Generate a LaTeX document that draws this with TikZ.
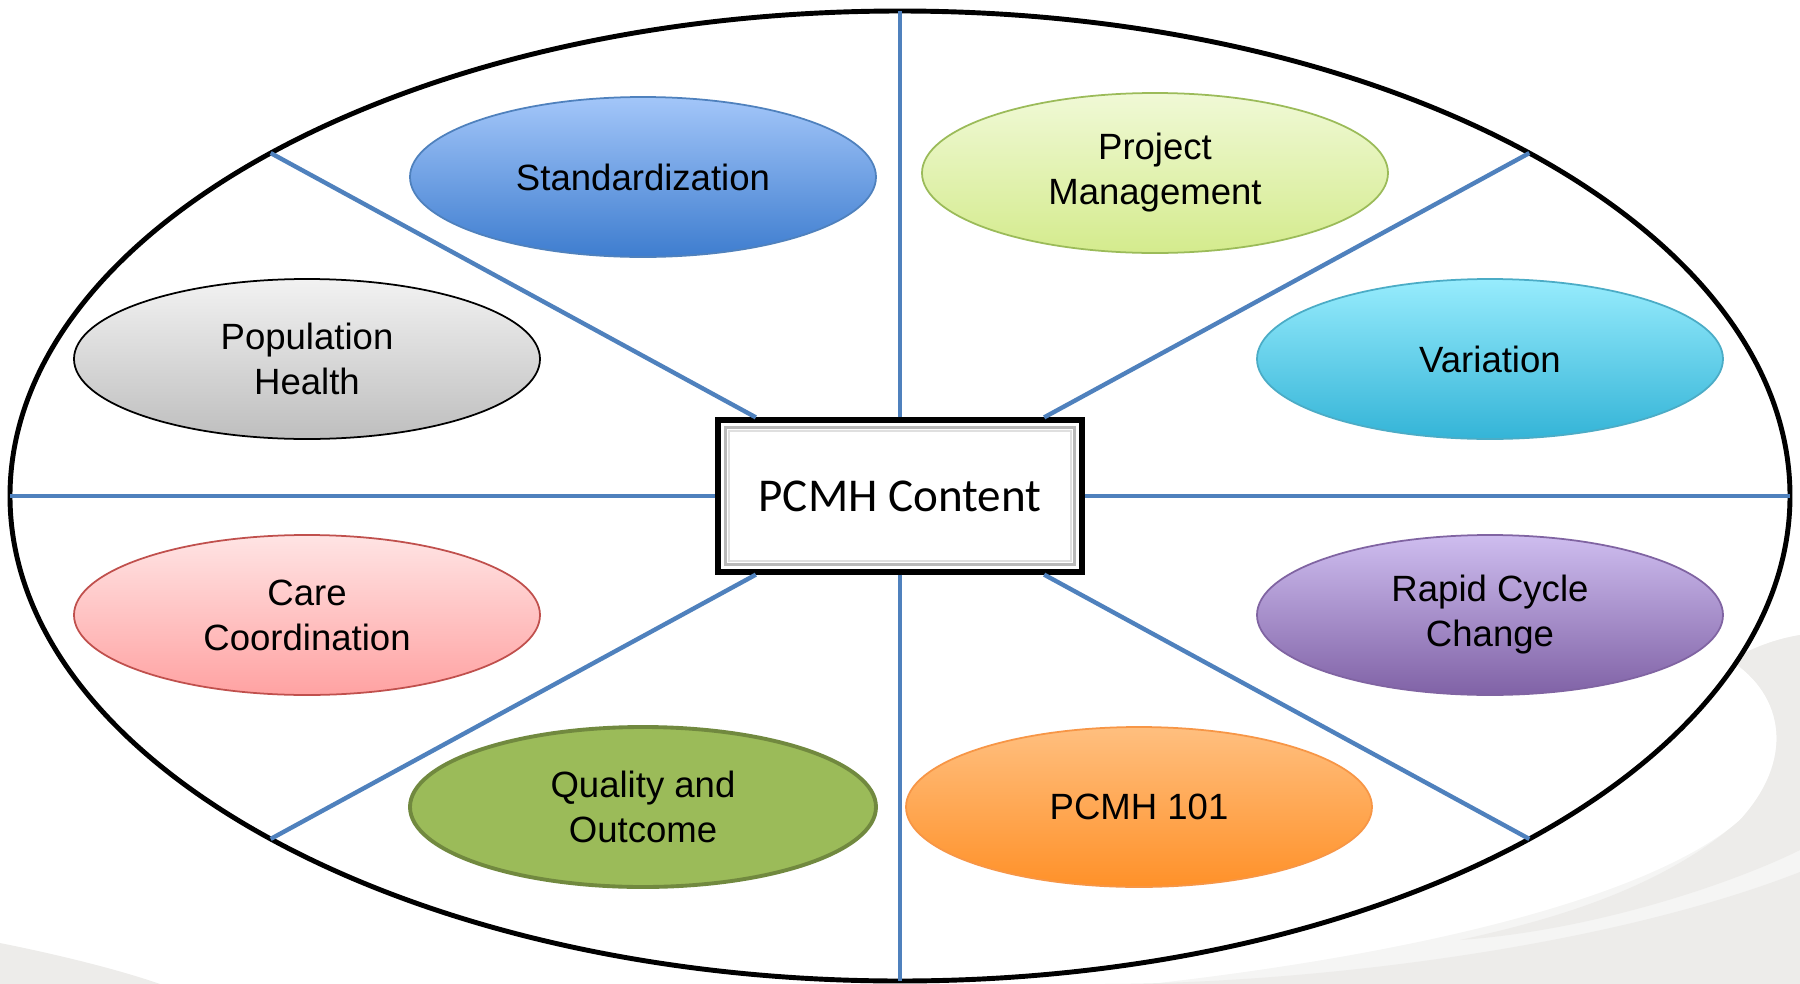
\documentclass[tikz,border=0pt]{standalone}
\usepackage{fontspec}
\setmainfont{Liberation Sans}
\newfontfamily\calibri{Carlito}
\usetikzlibrary{shapes.geometric}

\definecolor{spokeblue}{HTML}{4F81BD}
\definecolor{swoosh}{HTML}{EDECEA}
\definecolor{swooshlight}{HTML}{F5F5F4}

\begin{document}
\begin{tikzpicture}[
    topic/.style={ellipse, minimum width=4.66cm, minimum height=1.6cm, inner sep=0pt,
      align=center, line width=0.5pt, font=\fontsize{10.4}{12.8}\selectfont},
    spoke/.style={spokeblue, line width=1.25pt}]
  \useasboundingbox (0,0) rectangle (18,-9.84);

  % faint plate rim behind the wheel
  \fill[swooshlight] (17.3,-6.6) .. controls (17.85,-6.95) and (17.95,-7.6) .. (17.4,-8.2)
    .. controls (16.6,-8.9) and (14.5,-9.5) .. (11.5,-9.84) -- (18,-9.84) -- (18,-6.35)
    .. controls (17.7,-6.4) and (17.5,-6.5) .. cycle;
  \fill[swoosh] (17.3,-6.6) .. controls (17.85,-6.95) and (17.95,-7.6) .. (17.4,-8.2)
    .. controls (16.6,-8.9) and (15.5,-9.2) .. (14.6,-9.4)
    .. controls (16,-9.3) and (17.4,-8.8) .. (18,-8.5) -- (18,-6.35)
    .. controls (17.7,-6.4) and (17.5,-6.5) .. cycle;
  \fill[swoosh] (18,-8.72) .. controls (16,-9.5) and (13,-9.84) .. (11,-9.84) -- (18,-9.84) -- cycle;
  \fill[swoosh] (0,-9.43) .. controls (0.6,-9.55) and (1.2,-9.7) .. (1.6,-9.84) -- (0,-9.84) -- cycle;

  \coordinate (c) at (9,-4.96);
  \filldraw[fill=white, line width=1.4pt] (c) ellipse [x radius=8.9cm, y radius=4.85cm];

  \node[draw, line width=1.5pt, fill=white, minimum width=3.64cm, minimum height=1.52cm,
    font=\calibri\fontsize{13.4}{16}\selectfont] (pcmh) at (c) {PCMH Content};
  \draw[gray!55, line width=0.9pt] ([shift={(0.1,-0.1)}]pcmh.north west) rectangle ([shift={(-0.1,0.1)}]pcmh.south east);
  \draw[gray!25, line width=0.6pt] ([shift={(0.14,-0.14)}]pcmh.north west) rectangle ([shift={(-0.14,0.14)}]pcmh.south east);

  \foreach \a in {0,45,...,315} {
    \path (c) ++(\a:8.9 and 4.85) coordinate (rim\a);
    \draw[spoke] (pcmh) -- (rim\a);
  }

  \node[topic, top color={rgb,255:red,163;green,198;blue,249}, bottom color={rgb,255:red,62;green,125;blue,207},
    draw=spokeblue] (std) at (6.43,-1.77) {Standardization};
  \node[topic, top color={rgb,255:red,240;green,249;blue,214}, bottom color={rgb,255:red,212;green,235;blue,141},
    draw={rgb,255:red,155;green,187;blue,89}] (proj) at (11.55,-1.73) {Project\\Management};
  \node[topic, top color={rgb,255:red,242;green,242;blue,242}, bottom color={rgb,255:red,190;green,190;blue,190},
    draw=black] (pop) at (3.07,-3.59) {Population\\Health};
  \node[topic, top color={rgb,255:red,151;green,236;blue,253}, bottom color={rgb,255:red,52;green,180;blue,215},
    draw={rgb,255:red,75;green,172;blue,198}] (var) at (14.90,-3.59) {Variation};
  \node[topic, top color={rgb,255:red,255;green,228;blue,228}, bottom color={rgb,255:red,255;green,162;blue,162},
    draw={rgb,255:red,192;green,80;blue,77}] (care) at (3.07,-6.15) {Care\\Coordination};
  \node[topic, top color={rgb,255:red,206;green,189;blue,239}, bottom color={rgb,255:red,128;green,98;blue,166},
    draw={rgb,255:red,128;green,100;blue,162}] (rapid) at (14.90,-6.15) {Rapid Cycle\\Change};
  \node[topic, fill={rgb,255:red,155;green,187;blue,89}, draw={rgb,255:red,113;green,137;blue,63},
    line width=1.1pt] (qual) at (6.43,-8.07) {Quality and\\Outcome};
  \node[topic, top color={rgb,255:red,255;green,191;blue,127}, bottom color={rgb,255:red,255;green,145;blue,41},
    draw={rgb,255:red,247;green,150;blue,70}] (intro) at (11.39,-8.07) {PCMH 101};
\end{tikzpicture}
\end{document}
